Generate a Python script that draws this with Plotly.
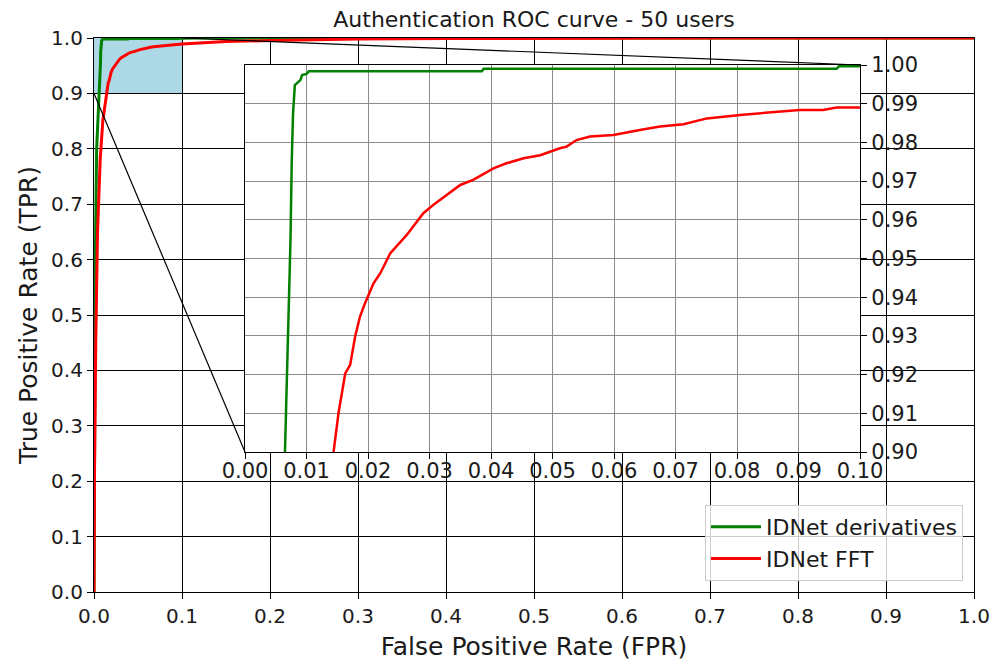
import plotly.graph_objects as go

# ---------------- data ----------------
fpr_deriv = [0.0, 0.0005, 0.0015, 0.003, 0.005, 0.0065, 0.0070, 0.0074, 0.0076, 0.0078,
             0.0081, 0.0084, 0.0087, 0.0090, 0.0093, 0.0100, 0.0104, 0.0385, 0.0388,
             0.0962, 0.0966, 0.1000, 0.1200, 1.0]
tpr_deriv = [0.0, 0.30, 0.60, 0.80, 0.87, 0.900, 0.930, 0.955, 0.975, 0.987,
             0.9948, 0.9952, 0.9957, 0.9961, 0.9974, 0.9977, 0.9984, 0.9984, 0.9990,
             0.9990, 0.9997, 0.9997, 1.0, 1.0]

fpr_fft = [0.0, 0.0005, 0.002, 0.004, 0.007, 0.010, 0.0144, 0.0152, 0.0163, 0.0171,
           0.0179, 0.0187, 0.0195, 0.0209, 0.0220, 0.0236, 0.0263, 0.0290, 0.0306,
           0.0328, 0.0350, 0.0371, 0.0404, 0.0425, 0.0453, 0.0480, 0.0512, 0.0523,
           0.0539, 0.0561, 0.0599, 0.0642, 0.0675, 0.0713, 0.0751, 0.0805, 0.0859,
           0.0902, 0.0940, 0.0962, 0.1000, 0.1200, 0.1500, 0.2000, 0.2500, 0.3000,
           0.4000, 0.5000, 0.7000, 1.0]
tpr_fft = [0.0, 0.20, 0.45, 0.65, 0.78, 0.85, 0.900, 0.910, 0.9203, 0.9225,
           0.9298, 0.9350, 0.9384, 0.9436, 0.9462, 0.9513, 0.9561, 0.9617, 0.9638,
           0.9664, 0.9690, 0.9703, 0.9733, 0.9746, 0.9759, 0.9767, 0.9785, 0.9789,
           0.9806, 0.9815, 0.9819, 0.9832, 0.9841, 0.9847, 0.9862, 0.9871, 0.9879,
           0.9884, 0.9884, 0.9890, 0.9890, 0.9910, 0.9935, 0.9955, 0.9970, 0.9980,
           0.9990, 0.9995, 1.0, 1.0]

series_names = ["IDNet derivatives", "IDNet FFT"]
series_colors = ["green", "red"]

main_ticks = [0.0, 0.1, 0.2, 0.3, 0.4, 0.5, 0.6, 0.7, 0.8, 0.9, 1.0]
main_tick_labels = ["0.0", "0.1", "0.2", "0.3", "0.4", "0.5", "0.6", "0.7", "0.8", "0.9", "1.0"]
inset_x_ticks = [0.00, 0.01, 0.02, 0.03, 0.04, 0.05, 0.06, 0.07, 0.08, 0.09, 0.10]
inset_x_labels = ["0.00", "0.01", "0.02", "0.03", "0.04", "0.05", "0.06", "0.07", "0.08", "0.09", "0.10"]
inset_y_ticks = [0.90, 0.91, 0.92, 0.93, 0.94, 0.95, 0.96, 0.97, 0.98, 0.99, 1.00]
inset_y_labels = ["0.90", "0.91", "0.92", "0.93", "0.94", "0.95", "0.96", "0.97", "0.98", "0.99", "1.00"]

zoom_x = [0.0, 0.1]
zoom_y = [0.9, 1.0]

title_text = "Authentication ROC curve - 50 users"
x_title = "False Positive Rate (FPR)"
y_title = "True Positive Rate (TPR)"

# ---------------- layout geometry ----------------
W, H = 995, 661
ML, MR, MT, MB = 94, 21, 38, 69
PW, PH = W - ML - MR, H - MT - MB
inset_px = (245, 860, 65, 452)  # left, right, top, bottom in pixels
ix_dom = [(inset_px[0] - ML) / PW, (inset_px[1] - ML) / PW]
iy_dom = [(H - MB - inset_px[3]) / PH, (H - MB - inset_px[2]) / PH]
main_range = [0.0, 1.0]

FONT = "DejaVu Sans"
TXT = "#1a1a1a"

fig = go.Figure()

# main traces
for fx, fy, name, col in [(fpr_deriv, tpr_deriv, series_names[0], series_colors[0]),
                          (fpr_fft, tpr_fft, series_names[1], series_colors[1])]:
    fig.add_trace(go.Scatter(x=fx, y=fy, mode="lines", name=name,
                             line=dict(color=col, width=3), xaxis="x", yaxis="y"))
# inset traces
for fx, fy, name, col in [(fpr_deriv, tpr_deriv, series_names[0], series_colors[0]),
                          (fpr_fft, tpr_fft, series_names[1], series_colors[1])]:
    fig.add_trace(go.Scatter(x=fx, y=fy, mode="lines", name=name, showlegend=False,
                             line=dict(color=col, width=2.5), xaxis="x2", yaxis="y2"))


def main_to_paper(x, y):
    return ((x - main_range[0]) / (main_range[1] - main_range[0]),
            (y - main_range[0]) / (main_range[1] - main_range[0]))


def inset_to_paper(x, y):
    px = ix_dom[0] + (x - zoom_x[0]) / (zoom_x[1] - zoom_x[0]) * (ix_dom[1] - ix_dom[0])
    py = iy_dom[0] + (y - zoom_y[0]) / (zoom_y[1] - zoom_y[0]) * (iy_dom[1] - iy_dom[0])
    return px, py


shapes = []
shapes.append(dict(type="rect", xref="x", yref="y", x0=zoom_x[0], x1=zoom_x[1],
                   y0=zoom_y[0], y1=zoom_y[1], fillcolor="lightblue",
                   line=dict(width=0), layer="below"))
shapes.append(dict(type="rect", xref="x2", yref="y2", x0=zoom_x[0], x1=zoom_x[1],
                   y0=zoom_y[0], y1=zoom_y[1], fillcolor="white",
                   line=dict(width=0), layer="below"))
a0 = main_to_paper(zoom_x[0], zoom_y[0]); b0 = inset_to_paper(zoom_x[0], zoom_y[0])
a1 = main_to_paper(zoom_x[1], zoom_y[1]); b1 = inset_to_paper(zoom_x[1], zoom_y[1])
for a, b in [(a0, b0), (a1, b1)]:
    shapes.append(dict(type="line", xref="paper", yref="paper", x0=a[0], y0=a[1],
                       x1=b[0], y1=b[1], line=dict(color="black", width=1.2), layer="above"))

axis_common = dict(showline=True, linecolor="black", linewidth=1.2, mirror=True,
                   ticks="outside", ticklen=6, tickcolor="black", tickwidth=1.2,
                   zeroline=False, automargin=False)

fig.update_layout(
    width=W, height=H,
    margin=dict(l=ML, r=MR, t=MT, b=MB, autoexpand=False),
    paper_bgcolor="white", plot_bgcolor="white",
    font=dict(family=FONT, color=TXT),
    title=dict(text=title_text, x=(ML + PW / 2) / W, xanchor="center",
               y=1 - 19 / H, yanchor="middle", yref="container",
               font=dict(size=22, family=FONT, color=TXT)),
    xaxis=dict(domain=[0, 1], range=main_range, tickvals=main_ticks, ticktext=main_tick_labels,
               showgrid=True, gridcolor="black", gridwidth=1,
               tickfont=dict(size=20), title=dict(text=x_title, font=dict(size=25), standoff=12),
               **axis_common),
    yaxis=dict(domain=[0, 1], range=main_range, tickvals=main_ticks, ticktext=main_tick_labels,
               showgrid=True, gridcolor="black", gridwidth=1,
               tickfont=dict(size=20), title=dict(text=y_title, font=dict(size=25), standoff=6),
               **axis_common),
    xaxis2=dict(domain=ix_dom, range=zoom_x, anchor="y2", tickvals=inset_x_ticks,
                ticktext=inset_x_labels, showgrid=True, gridcolor="#8c8c8c", gridwidth=1,
                tickfont=dict(size=21), ticklabelstandoff=-6, **axis_common),
    yaxis2=dict(domain=iy_dom, range=zoom_y, anchor="x2", side="right", tickvals=inset_y_ticks,
                ticktext=inset_y_labels, showgrid=True, gridcolor="#8c8c8c", gridwidth=1,
                tickfont=dict(size=21), **axis_common),
    shapes=shapes,
    showlegend=True,
    legend=dict(x=(963 - ML) / PW, xanchor="right", y=(H - MB - 581) / PH, yanchor="bottom",
                bgcolor="rgba(255,255,255,0.8)", bordercolor="#cccccc", borderwidth=1,
                font=dict(size=22, family=FONT), tracegroupgap=0, itemwidth=50),
)

fig.write_html("out.html")
